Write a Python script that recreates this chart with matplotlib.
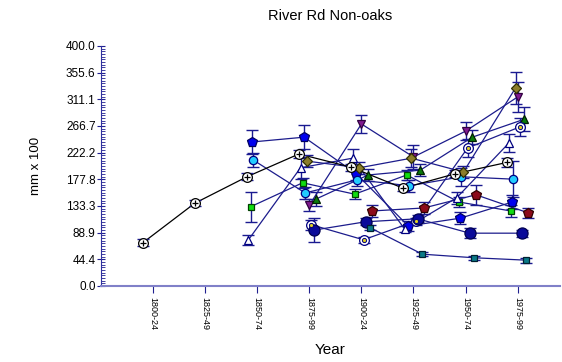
import numpy as np
import matplotlib
matplotlib.use("Agg")
import matplotlib.pyplot as plt
from matplotlib.ticker import MultipleLocator, FormatStrFormatter

plt.rcParams['font.family'] = ['Liberation Sans', 'DejaVu Sans']

nan = np.nan

# Periodos
periodos = ["1800-24", "1825-49", "1850-74", "1875-99", "1900-24", "1925-49", "1950-74", "1975-99"]

# Valores por serie (mm x 100), um por periodo
preto     = [72, 138, 182, 220, 198, 163, 187, 206]
pent_azul = [nan, nan, 240, 248, 187, 100, 113, 140]
ciano     = [nan, nan, 210, 155, 177, 167, 182, 178]
quad_verde = [nan, nan, 132, 172, 153, 185, 140, 125]
tri_azul  = [nan, nan, 77, 197, 213, 95, 147, 238]
roxo      = [nan, nan, nan, 135, 270, 215, 258, 315]
oliva     = [nan, nan, nan, 208, 197, 213, 190, 330]
tri_verde = [nan, nan, nan, 145, 185, 193, 248, 278]
alvo      = [nan, nan, nan, 102, 77, 108, 230, 265]
vermelho  = [nan, nan, nan, nan, 125, 130, 152, 122]
circ_azul = [nan, nan, nan, 93, 107, 112, 88, 88]
teal      = [nan, nan, nan, nan, 97, 53, 47, 43]

# Erros
err_preto     = [6, 5, 6, 6, 6, 5, 6, 8]
err_pent_azul = [nan, nan, 20, 20, 10, 8, 10, 12]
err_ciano     = [nan, nan, 12, 10, 10, 10, 15, 30]
err_quad_verde = [nan, nan, 25, 8, 8, 8, 8, 10]
err_tri_azul  = [nan, nan, 8, 18, 15, 5, 10, 15]
err_roxo      = [nan, nan, nan, 10, 15, 20, 15, 25]
err_oliva     = [nan, nan, nan, 10, 10, 15, 10, 27]
err_tri_verde = [nan, nan, nan, 12, 10, 10, 12, 20]
err_alvo      = [nan, nan, nan, 8, 5, 6, 15, 15]
err_vermelho  = [nan, nan, nan, nan, 10, 10, 17, 8]
err_circ_azul = [nan, nan, nan, 20, 6, 6, 8, 6]
err_teal      = [nan, nan, nan, nan, 4, 3, 3, 4]

NAVY = '#1c1c8c'

# (valores, erros, deslocamento x, marcador, cor, borda, tamanho, cor da linha)
SERIES = [
    (pent_azul, err_pent_azul, -0.10, 'p', '#0000ee', '#000060', 7, NAVY),
    (ciano, err_ciano, -0.08, 'o', '#22ccff', '#000080', 6, NAVY),
    (quad_verde, err_quad_verde, -0.13, 's', '#11dd11', '#004000', 5, NAVY),
    (tri_azul, err_tri_azul, -0.17, '^', 'white', '#000080', 6, NAVY),
    (roxo, err_roxo, 0.0, 'v', '#801a90', '#300040', 6, NAVY),
    (oliva, err_oliva, -0.04, 'D', '#8b7d2a', '#303000', 5, NAVY),
    (tri_verde, err_tri_verde, 0.13, '^', '#0a7a0a', '#002000', 6, NAVY),
    (alvo, err_alvo, 0.04, 'o', 'white', '#000080', 7, NAVY),
    (vermelho, err_vermelho, 0.20, 'p', '#8b0a1a', '#300000', 7, NAVY),
    (circ_azul, err_circ_azul, 0.08, 'o', '#0a0a9a', '#000050', 8, NAVY),
    (teal, err_teal, 0.17, 's', '#0a7a88', '#002030', 5, NAVY),
    (preto, err_preto, -0.20, 'o', 'white', 'black', 7, 'black'),
]

fig = plt.figure(figsize=(5.62, 3.62), dpi=100)
ax = fig.add_axes([0.18, 0.21, 0.816, 0.663])

x_base = np.arange(1, len(periodos) + 1)

for vals, errs, dx, mk, cor, borda, ms, cor_linha in SERIES:
    xs = x_base + dx
    ax.plot(xs, vals, '-', color=cor_linha, linewidth=0.9, zorder=2)
    ax.errorbar(xs, vals, yerr=errs, fmt='none', ecolor='#1a1a90', elinewidth=1.0,
                capsize=4, capthick=1.0, zorder=3)
    ax.plot(xs, vals, linestyle='none', marker=mk, markersize=ms, markerfacecolor=cor,
            markeredgecolor=borda, markeredgewidth=0.9, zorder=4)
    if vals is alvo:
        ax.plot(xs, vals, linestyle='none', marker='o', markersize=3, markerfacecolor='#e0d020',
                markeredgecolor='#000080', markeredgewidth=0.7, zorder=5)
    if vals is preto:
        ax.plot(xs, vals, linestyle='none', marker='+', markersize=5, color='black',
                markeredgewidth=0.9, zorder=5)

ax.set_xlim(0, 8.81)
ax.set_ylim(0, 400)

ax.set_xticks(x_base)
ax.set_xticklabels(periodos, rotation=-90, fontsize=6.5)
ax.yaxis.set_major_locator(MultipleLocator(400 / 9))
ax.yaxis.set_minor_locator(MultipleLocator(400 / 90))
ax.yaxis.set_major_formatter(FormatStrFormatter('%.1f'))
ax.tick_params(axis='y', which='major', direction='inout', length=6, color='#202090', labelsize=8.5, pad=1)
ax.tick_params(axis='y', which='minor', direction='in', length=3, color='#202090')
ax.tick_params(axis='x', which='major', direction='out', length=5, color='#202090', pad=3)

for lado in ['top', 'right']:
    ax.spines[lado].set_visible(False)
ax.spines['left'].set_color('#3030a0')
ax.spines['bottom'].set_color('#8080c8')
ax.spines['bottom'].set_linewidth(1.5)

ax.set_title("River Rd Non-oaks", fontsize=10.5, pad=19)
ax.set_xlabel("Year", fontsize=11, labelpad=9)
ax.set_ylabel("mm x 100", fontsize=9.5, labelpad=17)

fig.savefig("out.png", dpi=100)
